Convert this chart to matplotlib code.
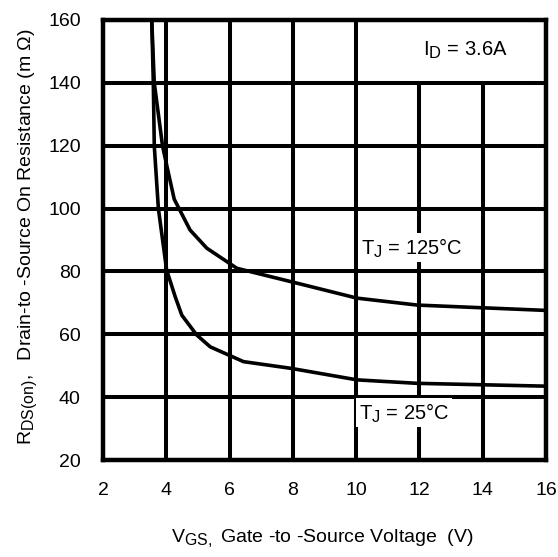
import matplotlib
matplotlib.use("Agg")
import matplotlib.pyplot as plt
import matplotlib._mathtext as mt
from matplotlib.patches import Rectangle

# subscripts in the reference are larger than mathtext's default
mt.SHRINK_FACTOR = 0.82

plt.rcParams['font.family'] = ['Liberation Sans', 'DejaVu Sans']
plt.rcParams['mathtext.fontset'] = 'custom'
plt.rcParams['mathtext.rm'] = 'Liberation Sans'
plt.rcParams['mathtext.it'] = 'Liberation Sans'

# gate-source voltage (V) and on resistance (mOhm)
vgs_25 = [3.54, 3.59, 3.62, 3.75, 4.01, 4.28, 4.49, 4.96, 5.39, 6.44, 7.92, 10.03, 11.93, 16.0]
rds_25 = [160, 140, 120, 100, 80.5, 72, 66.1, 59.8, 56, 51.3, 49.2, 45.5, 44.4, 43.5]

vgs_125 = [3.54, 3.62, 3.88, 4.03, 4.25, 4.75, 5.28, 6.23, 7.92, 10.03, 11.93, 16.0]
rds_125 = [160, 140, 120, 113, 103, 93.2, 87.4, 81, 76.8, 71.5, 69.3, 67.6]

x_ticks = [2, 4, 6, 8, 10, 12, 14, 16]
y_ticks = [20, 40, 60, 80, 100, 120, 140, 160]

fs = 14

fig = plt.figure(figsize=(5.58, 5.57), dpi=100)
ax = fig.add_axes([0.1846, 0.1741, 0.7939, 0.79])

ax.plot(vgs_25, rds_25, color='black', lw=2.6, zorder=3)
ax.plot(vgs_125, rds_125, color='black', lw=2.6, zorder=3)

ax.set_xlim(2, 16)
ax.set_ylim(20, 160)
ax.set_xticks(x_ticks)
ax.set_yticks(y_ticks)
ax.grid(True, color='black', lw=2.9)
ax.tick_params(length=0, labelsize=fs, pad=16)
for s in ax.spines.values():
    s.set_linewidth(3.2)
    s.set_zorder(5)

# white patch behind the I_D note hides the vertical grid above 140
ax.add_patch(Rectangle((0.68, 0.861), 0.27, 0.139, transform=ax.transAxes,
                       facecolor='white', edgecolor='none', zorder=2.8))
ax.text(0.818, 0.93, r'$\mathregular{I_D}$ = 3.6A', transform=ax.transAxes,
        ha='center', va='center', fontsize=14.5, zorder=4)

box = dict(facecolor='white', edgecolor='none', pad=2)
ax.text(0.582, 0.482, r'$\mathregular{T_J}$ = 125°C', transform=ax.transAxes,
        ha='left', va='center', fontsize=14.5, zorder=4, bbox=box)
ax.text(0.578, 0.107, r'$\mathregular{T_J}$ = 25°C', transform=ax.transAxes,
        ha='left', va='center', fontsize=14.5, zorder=4, bbox=box)

fig.text(0.577, 0.033, r'$\mathregular{V_{GS,}}$ Gate -to -Source Voltage  (V)',
         ha='center', va='center', fontsize=fs)
fig.text(0.05, 0.575, r'$\mathregular{R_{DS(on)},}$  Drain-to -Source On Resistance (m $\Omega$)',
         ha='center', va='center', rotation=90, fontsize=fs)

fig.savefig('out.png', dpi=100)
